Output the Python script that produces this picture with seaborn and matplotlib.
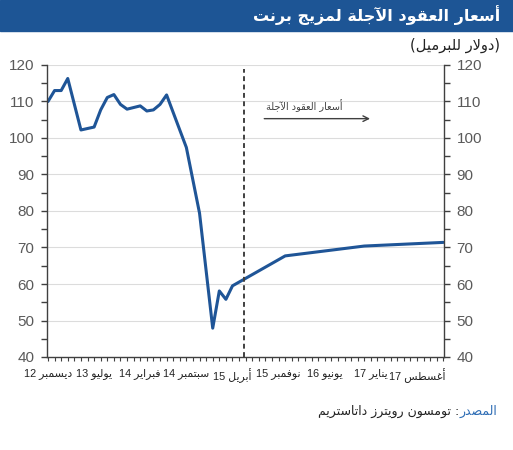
import re
import matplotlib
matplotlib.use("Agg")
import matplotlib.pyplot as plt
from matplotlib.patches import Rectangle
from matplotlib.ticker import MultipleLocator
import seaborn as sns
import pandas as pd

# ---------------- data ----------------
title = "أسعار العقود الآجلة لمزيج برنت"
unit_label = "(دولار للبرميل)"
futures_label = "أسعار العقود الآجلة"
source_head = "المصدر"
source_body = ": تومسون رويترز داتاستريم"

# months since Dec 2012
months = [0, 1, 2, 3, 5, 7, 8, 9, 10, 11, 12, 14, 15, 16, 17, 18,
          21, 23, 25, 26, 27, 28, 36, 48, 60]
prices = [110, 113, 113, 116.3, 102.2, 103, 107.7, 111.1, 111.9, 109.2,
          107.9, 108.8, 107.4, 107.7, 109.2, 111.8, 97.4, 79.4, 47.9,
          58.1, 55.8, 59.5, 67.7, 70.4, 71.4]
futures_start = 29.8

tick_months = [0, 7, 14, 21, 28, 35, 42, 49, 56]
tick_labels = ["ديسمبر 12", "يوليو 13", "فبراير 14", "سبتمبر 14", "أبريل 15",
               "نوفمبر 15", "يونيو 16", "يناير 17", "أغسطس 17"]
y_ticks = [40, 50, 60, 70, 80, 90, 100, 110, 120]

# ---------------- Arabic shaping (no bidi libs available) ----------------
_FORMS = {
    0x0621: (0xFE80, 1), 0x0622: (0xFE81, 2), 0x0623: (0xFE83, 2),
    0x0624: (0xFE85, 2), 0x0625: (0xFE87, 2), 0x0626: (0xFE89, 4),
    0x0627: (0xFE8D, 2), 0x0628: (0xFE8F, 4), 0x0629: (0xFE93, 2),
    0x062A: (0xFE95, 4), 0x062B: (0xFE99, 4), 0x062C: (0xFE9D, 4),
    0x062D: (0xFEA1, 4), 0x062E: (0xFEA5, 4), 0x062F: (0xFEA9, 2),
    0x0630: (0xFEAB, 2), 0x0631: (0xFEAD, 2), 0x0632: (0xFEAF, 2),
    0x0633: (0xFEB1, 4), 0x0634: (0xFEB5, 4), 0x0635: (0xFEB9, 4),
    0x0636: (0xFEBD, 4), 0x0637: (0xFEC1, 4), 0x0638: (0xFEC5, 4),
    0x0639: (0xFEC9, 4), 0x063A: (0xFECD, 4), 0x0641: (0xFED1, 4),
    0x0642: (0xFED5, 4), 0x0643: (0xFED9, 4), 0x0644: (0xFEDD, 4),
    0x0645: (0xFEE1, 4), 0x0646: (0xFEE5, 4), 0x0647: (0xFEE9, 4),
    0x0648: (0xFEED, 2), 0x0649: (0xFEEF, 2), 0x064A: (0xFEF1, 4),
}
_LAMALEF = {0x0622: 0xFEF5, 0x0623: 0xFEF7, 0x0625: 0xFEF9, 0x0627: 0xFEFB}
_MIRROR = {"(": ")", ")": "("}


def _nf(ch):
    return _FORMS.get(ord(ch), (0, 0))[1] if ch else 0


def ar(s):
    out = []
    i, n = 0, len(s)
    while i < n:
        ch = s[i]
        prev_joins = i > 0 and _nf(s[i - 1]) == 4
        if ord(ch) == 0x0644 and i + 1 < n and ord(s[i + 1]) in _LAMALEF:
            base = _LAMALEF[ord(s[i + 1])]
            out.append(chr(base + (1 if prev_joins else 0)))
            i += 2
            continue
        if ord(ch) in _FORMS:
            start, nf = _FORMS[ord(ch)]
            next_ar = i + 1 < n and _nf(s[i + 1]) > 1
            if nf == 4:
                f = 3 if (prev_joins and next_ar) else 1 if prev_joins else 2 if next_ar else 0
            elif nf == 2:
                f = 1 if prev_joins else 0
            else:
                f = 0
            out.append(chr(start + f))
        else:
            out.append(ch)
        i += 1
    shaped = "".join(out)
    toks = re.findall(r"[0-9A-Za-z.%]+|.", shaped)
    toks.reverse()
    return "".join(_MIRROR.get(t, t) for t in toks)


# ---------------- plot ----------------
sns.set_style("white")
plt.rcParams["font.family"] = ["Liberation Sans", "DejaVu Sans"]
AR = ["DejaVu Sans"]

df = pd.DataFrame({"month": months, "price": prices})

fig = plt.figure(figsize=(5.13, 4.5), dpi=100)
ax = fig.add_axes([47 / 513, 1 - 357 / 450, (444 - 47) / 513, (357 - 65) / 450])

blue = "#1f5597"
sns.lineplot(data=df, x="month", y="price", ax=ax, color=blue, linewidth=2.2)

ax.set_xlim(-0.15, 60.1)
ax.set_ylim(40, 120)
ax.set_yticks(y_ticks)
ax.yaxis.set_minor_locator(MultipleLocator(5))
ax.set_xticks(tick_months)
ax.set_xticklabels([ar(t) for t in tick_labels], fontsize=7.8, color="#222222",
                   family=["Liberation Sans", "DejaVu Sans"])
ax.xaxis.set_minor_locator(MultipleLocator(1))
ax.set_xlabel("")
ax.set_ylabel("")

for v in y_ticks[1:]:
    ax.axhline(v, color="#dcdcdc", linewidth=0.8, zorder=0)

for side in ["left", "right", "bottom"]:
    ax.spines[side].set_color("#404040")
    ax.spines[side].set_linewidth(1.0)
ax.spines["top"].set_visible(False)

ax.tick_params(axis="y", which="both", left=True, right=True, labelleft=True,
               labelright=True, direction="out", colors="#404040",
               labelcolor="#5a5a5a", labelsize=11, length=4, width=1, pad=5)
ax.tick_params(axis="x", which="both", bottom=True, direction="out",
               colors="#404040", length=3, width=0.8, pad=5)
ax.tick_params(axis="x", which="major", labelcolor="#222222")

ax.axvline(futures_start, ymin=0, ymax=0.985, color="#404040",
           linestyle=(0, (2.5, 1.8)), linewidth=1.4)

ax.annotate("", xy=(49.3, 105.3), xytext=(32.4, 105.3),
            arrowprops=dict(arrowstyle="->", color="#404040", lw=1.0))
ax.text(38.9, 109.0, ar(futures_label), fontsize=7, color="#404040",
        ha="center", va="center", family=AR)

# header bar
fig.patches.append(Rectangle((0, 1 - 31 / 450), 1, 31 / 450,
                             transform=fig.transFigure, color="#1d5595",
                             zorder=0))
fig.text(500 / 513, 1 - 15 / 450, ar(title), color="white", fontsize=11.5,
         fontweight="bold", ha="right", va="center", family=AR)
fig.text(500 / 513, 1 - 45 / 450, ar(unit_label), color="#222222",
         fontsize=10.5, ha="right", va="center", family=AR)

# source line
t1 = fig.text(497 / 513, 1 - 411 / 450, ar(source_head), color="#2e6db5",
              fontsize=9, ha="right", va="center", family=AR)
fig.canvas.draw()
bb = t1.get_window_extent()
fig.text(bb.x0 / fig.bbox.width, 1 - 411 / 450, ar(source_body),
         color="#222222", fontsize=9, ha="right", va="center", family=AR)

fig.savefig("out.png", dpi=100)
